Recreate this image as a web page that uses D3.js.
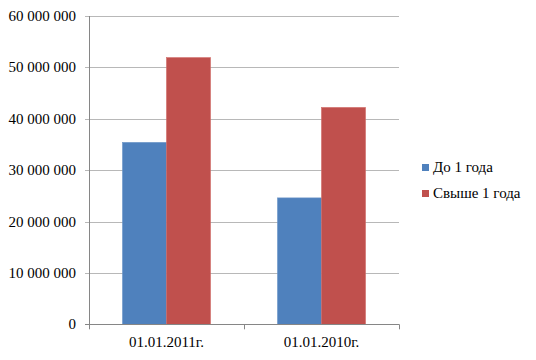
<!DOCTYPE html>
<html>
<head>
<meta charset="utf-8">
<script src="https://cdn.jsdelivr.net/npm/d3@7"></script>
</head>
<body style="margin:0">
<svg id="chart" width="536" height="360"></svg>
<script>
// data
const categories = ['01.01.2011г.', '01.01.2010г.']
const seriesNames = ['До 1 года', 'Свыше 1 года']
const seriesColors = ['#4f81bd', '#c0504d']
const upTo1Year = [35400000, 24600000]
const over1Year = [51900000, 42200000]
const yTicks = [0, 10000000, 20000000, 30000000, 40000000, 50000000, 60000000]

const series = [upTo1Year, over1Year]
const svg = d3.select('#chart')
const plot = { left: 89, right: 399, top: 16, bottom: 324.3 }

const x = d3.scaleBand().domain(categories).range([plot.left, plot.right])
const inner = d3.scaleBand().domain(seriesNames).range([0, 88])
const y = d3.scaleLinear().domain([0, 60000000]).range([plot.bottom, plot.top])
const fmt = v => d3.format(',')(v).replace(/,/g, ' ')

// gridlines
svg.append('g')
    .selectAll('line')
    .data(yTicks)
    .enter()
    .append('line')
    .attr('x1', plot.left - 4)
    .attr('x2', plot.right)
    .attr('y1', d => Math.round(y(d)) + 0.5)
    .attr('y2', d => Math.round(y(d)) + 0.5)
    .attr('stroke', d => d === 0 ? '#868686' : '#b8b8b8')
    .attr('stroke-width', 1)

// y labels
svg.append('g')
    .selectAll('text')
    .data(yTicks)
    .enter()
    .append('text')
    .style('font-family', '"Tinos"')
    .style('font-size', '15px')
    .attr('x', 76)
    .attr('y', d => y(d) + 5)
    .attr('text-anchor', 'end')
    .text(d => fmt(d))

// bars
categories.forEach((c, i) => {
    series.forEach((vals, s) => {
        const x0 = x(c) + (x.bandwidth() - 88) / 2 + inner(seriesNames[s])
        svg.append('rect')
            .attr('x', x0)
            .attr('y', y(vals[i]))
            .attr('width', inner.bandwidth())
            .attr('height', y(0) - y(vals[i]))
            .attr('fill', seriesColors[s])
            .attr('stroke', s === 0 ? '#6a93c6' : '#d06a67')
            .attr('stroke-width', 0.6)
    })
})

// axes lines
svg.append('line')
    .attr('x1', plot.left + 0.5).attr('x2', plot.left + 0.5)
    .attr('y1', plot.top).attr('y2', plot.bottom + 4)
    .attr('stroke', '#868686')
svg.append('line')
    .attr('x1', plot.left).attr('x2', plot.right)
    .attr('y1', Math.round(y(0)) + 0.5).attr('y2', Math.round(y(0)) + 0.5)
    .attr('stroke', '#868686')

// category boundary ticks
const bounds = categories.map(c => x(c)).concat([plot.right])
svg.append('g')
    .selectAll('line')
    .data(bounds)
    .enter()
    .append('line')
    .attr('x1', d => Math.round(d) + 0.5)
    .attr('x2', d => Math.round(d) + 0.5)
    .attr('y1', plot.bottom)
    .attr('y2', plot.bottom + 5)
    .attr('stroke', '#868686')

// category labels
svg.append('g')
    .selectAll('text')
    .data(categories)
    .enter()
    .append('text')
    .attr('font-family', 'Times New Roman')
    .attr('font-size', 15)
    .attr('x', d => x(d) + x.bandwidth() / 2)
    .attr('y', 347)
    .attr('text-anchor', 'middle')
    .text(d => d)

// legend
const legend = svg.append('g')
    .selectAll('g')
    .data(seriesNames)
    .enter()
    .append('g')
    .attr('transform', (d, i) => `translate(422, ${164 + i * 26})`)
legend.append('rect')
    .attr('width', 7)
    .attr('height', 7)
    .attr('fill', (d, i) => seriesColors[i])
legend.append('text')
    .style('font-family', '"Liberation Serif"')
    .style('font-size', '15px')
    .attr('x', 11)
    .attr('y', 7.5)
    .text(d => d)
</script>
</body>
</html>
